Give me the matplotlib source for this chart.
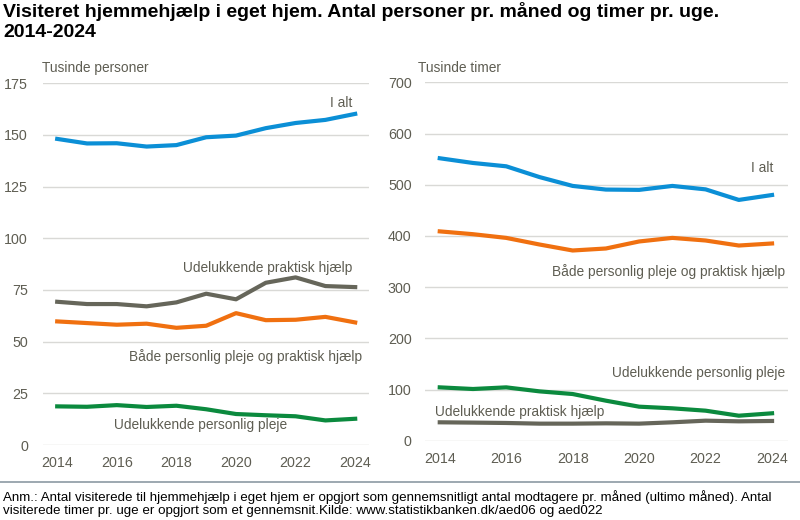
import numpy as np
import matplotlib.pyplot as plt
from matplotlib.lines import Line2D

# %% data
years = [2014, 2015, 2016, 2017, 2018, 2019, 2020, 2021, 2022, 2023, 2024]

# left panel: thousand persons
pers_ialt     = [148.1, 145.9, 146.0, 144.4, 145.1, 148.9, 149.7, 153.3, 155.8, 157.3, 160.2]
pers_praktisk = [69.3, 68.2, 68.2, 67.1, 69.0, 73.2, 70.5, 78.5, 81.1, 76.9, 76.4]
pers_begge    = [59.8, 59.0, 58.2, 58.7, 56.7, 57.7, 63.8, 60.4, 60.6, 62.0, 59.3]
pers_pleje    = [18.7, 18.5, 19.3, 18.4, 19.0, 17.3, 15.0, 14.4, 13.9, 11.9, 12.7]

# right panel: thousand hours per week
tim_ialt     = [551.7, 542.5, 536.0, 515.0, 497.7, 490.6, 490.0, 497.7, 491.0, 470.4, 480.0]
tim_begge    = [409.0, 403.5, 396.3, 383.4, 371.7, 375.6, 389.3, 396.3, 391.2, 381.4, 385.4]
tim_pleje    = [104.6, 101.4, 104.6, 96.8, 91.6, 78.6, 66.9, 63.7, 59.1, 49.3, 54.0]
tim_praktisk = [36.4, 35.8, 35.1, 33.8, 33.8, 34.4, 33.8, 36.4, 39.6, 38.3, 39.0]

xticks = [2014, 2016, 2018, 2020, 2022, 2024]
left_yticks = [0, 25, 50, 75, 100, 125, 150, 175]
right_yticks = [0, 100, 200, 300, 400, 500, 600, 700]

blue = '#0b8fd6'
orange = '#f07010'
grey = '#66665a'
green = '#0b8a3e'
txt = '#5e5d52'
gridc = '#d9d9d6'

plt.rcParams['font.family'] = ['Liberation Sans', 'DejaVu Sans']

fig = plt.figure(figsize=(8, 5.2), dpi=100)
ax1 = fig.add_axes([0.054, 0.1442, 0.4075, 0.6956])
ax2 = fig.add_axes([0.531, 0.152, 0.454, 0.6898])

def style(ax, yticks, xlim):
    ax.set_xlim(*xlim)
    ax.set_ylim(yticks[0], yticks[-1])
    ax.set_yticks(yticks)
    ax.set_xticks(xticks)
    for s in ax.spines.values():
        s.set_visible(False)
    ax.grid(axis='y', color=gridc, lw=1)
    ax.set_axisbelow(True)
    ax.tick_params(length=0, labelcolor=txt, labelsize=10.3)
    ax.tick_params(axis='x', pad=8)

style(ax1, left_yticks, (2013.53, 2024.47))
style(ax2, right_yticks, (2013.55, 2024.48))
ax1.tick_params(axis='y', pad=11)
ax2.tick_params(axis='y', pad=9.5)

lw = 3
ax1.plot(years, pers_ialt, color=blue, lw=lw)
ax1.plot(years, pers_praktisk, color=grey, lw=lw)
ax1.plot(years, pers_begge, color=orange, lw=lw)
ax1.plot(years, pers_pleje, color=green, lw=lw)

ax2.plot(years, tim_ialt, color=blue, lw=lw)
ax2.plot(years, tim_begge, color=orange, lw=lw)
ax2.plot(years, tim_pleje, color=green, lw=lw)
ax2.plot(years, tim_praktisk, color=grey, lw=lw)

fs = 9.9
kw = dict(color=txt, fontsize=fs, va='center')
ax1.text(2023.9, 165.4, 'I alt', ha='right', **kw)
ax1.text(2023.9, 85.6, 'Udelukkende praktisk hjælp', ha='right', **kw)
ax1.text(2024.23, 42.6, 'Både personlig pleje og praktisk hjælp', ha='right', **kw)
ax1.text(2021.7, 9.7, 'Udelukkende personlig pleje', ha='right', **kw)

ax2.text(2024.03, 532, 'I alt', ha='right', **kw)
ax2.text(2024.39, 331, 'Både personlig pleje og praktisk hjælp', ha='right', **kw)
ax2.text(2024.39, 132.5, 'Udelukkende personlig pleje', ha='right', **kw)
ax2.text(2013.85, 56.5, 'Udelukkende praktisk hjælp', ha='left', **kw)

# axis unit labels
fig.text(42/800, 1-68/520, 'Tusinde personer', color=txt, fontsize=fs, va='center')
fig.text(418/800, 1-68/520, 'Tusinde timer', color=txt, fontsize=fs, va='center')

# title
fig.text(3/800, 1-2/520, 'Visiteret hjemmehjælp i eget hjem. Antal personer pr. måned og timer pr. uge.\n2014-2024',
         fontsize=14, fontweight='bold', color='black', va='top', ha='left', linespacing=1.25)

# separator + footnote
fig.add_artist(Line2D([0, 1], [1-481.5/520, 1-481.5/520], color='#8c9aa3', lw=1.2))
fig.text(3/800, 1-497/520, 'Anm.: Antal visiterede til hjemmehjælp i eget hjem er opgjort som gennemsnitligt antal modtagere pr. måned (ultimo måned). Antal',
         fontsize=9.6, color='black', va='center')
fig.text(3/800, 1-511/520, 'visiterede timer pr. uge er opgjort som et gennemsnit.Kilde: www.statistikbanken.dk/aed06 og aed022',
         fontsize=9.6, color='black', va='center')

plt.savefig('out.png', dpi=100, facecolor='white')
